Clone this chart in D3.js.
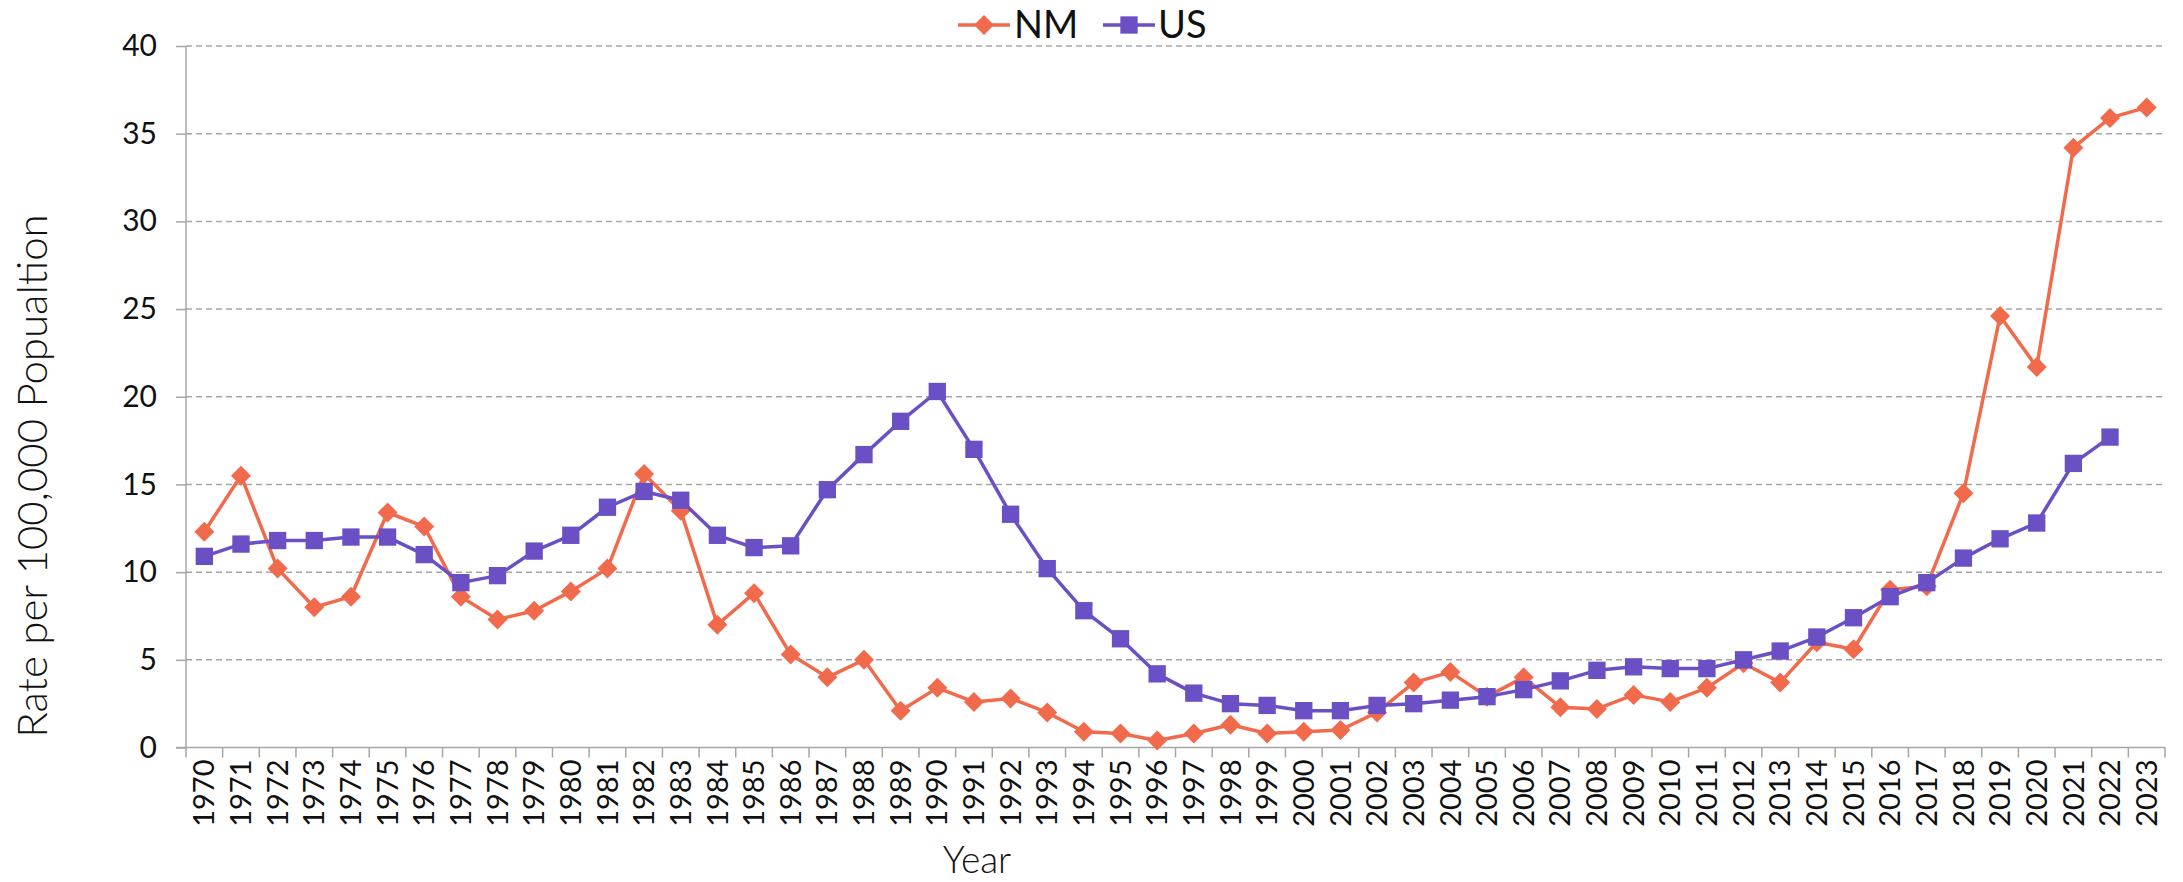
<!DOCTYPE html>
<html>
<head>
<meta charset="utf-8">
<script src="https://cdn.jsdelivr.net/npm/d3@7"></script>
<style>
  body { margin: 0; background: #fff; }
  svg text { font-family: Lato, "Open Sans", sans-serif; fill: #111; }
</style>
</head>
<body>
<svg id="chart" width="2183" height="882"></svg>
<script>
// Rate per 100,000 population, New Mexico vs. US
const years = d3.range(1970, 2024).map(String);

const nmValues = [
  12.3, 15.5, 10.2, 8.0, 8.6, 13.4, 12.6, 8.6, 7.3, 7.8,
  8.9, 10.2, 15.6, 13.5, 7.0, 8.8, 5.3, 4.0, 5.0, 2.1,
  3.4, 2.6, 2.8, 2.0, 0.9, 0.8, 0.4, 0.8, 1.3, 0.8,
  0.9, 1.0, 2.0, 3.7, 4.3, 2.9, 4.0, 2.3, 2.2, 3.0,
  2.6, 3.4, 4.8, 3.7, 6.0, 5.6, 9.0, 9.2, 14.5, 24.6,
  21.7, 34.2, 35.9, 36.5
];

const usValues = [
  10.9, 11.6, 11.8, 11.8, 12.0, 12.0, 11.0, 9.4, 9.8, 11.2,
  12.1, 13.7, 14.6, 14.1, 12.1, 11.4, 11.5, 14.7, 16.7, 18.6,
  20.3, 17.0, 13.3, 10.2, 7.8, 6.2, 4.2, 3.1, 2.5, 2.4,
  2.1, 2.1, 2.4, 2.5, 2.7, 2.9, 3.3, 3.8, 4.4, 4.6,
  4.5, 4.5, 5.0, 5.5, 6.3, 7.4, 8.6, 9.4, 10.8, 11.9,
  12.8, 16.2, 17.7, null
];

const yTicks = [0, 5, 10, 15, 20, 25, 30, 35, 40];

const series = [
  { name: "NM", values: nmValues, color: "#F26A4C", shape: "diamond" },
  { name: "US", values: usValues, color: "#6A4FC5", shape: "square" }
];

const svg = d3.select("#chart");
const plotLeft = 186, plotRight = 2165, plotTop = 46, plotBottom = 747.5;

const x = d3.scaleBand().domain(years).range([plotLeft, plotRight]).padding(0);
const y = d3.scaleLinear().domain([0, 40]).range([plotBottom, plotTop]);
const cx = d => x(d) + x.bandwidth() / 2;

// gridlines
svg.append("g")
  .selectAll("line")
  .data(yTicks.filter(t => t > 0))
  .enter().append("line")
  .attr("x1", plotLeft).attr("x2", plotRight)
  .attr("y1", d => y(d)).attr("y2", d => y(d))
  .attr("stroke", "#a6a6a6")
  .attr("stroke-width", 1.5)
  .attr("stroke-dasharray", "6,4");

// y axis
const yAxis = svg.append("g")
  .attr("transform", `translate(${plotLeft},0)`)
  .call(d3.axisLeft(y).tickValues(yTicks).tickSize(10).tickPadding(19));
yAxis.selectAll("path, line").attr("stroke", "#a6a6a6").attr("stroke-width", 1.5);
yAxis.select(".domain").attr("d", `M0,${plotTop}V${plotBottom}`);
yAxis.selectAll("text").style("font-size", "30px").attr("fill", "#111");

// x axis
const xAxis = svg.append("g")
  .attr("transform", `translate(0,${plotBottom})`)
  .call(d3.axisBottom(x).tickSize(0).tickPadding(0));
xAxis.select(".domain").attr("stroke", "#a6a6a6").attr("stroke-width", 1.5)
  .attr("d", `M${plotLeft - 10},0H${plotRight}`);
xAxis.selectAll(".tick text")
  .attr("transform", "rotate(-90)")
  .attr("x", -12).attr("y", 0).attr("dy", "0.35em")
  .style("text-anchor", "end")
  .style("font-size", "29px");

// x tick marks at band boundaries
svg.append("g")
  .selectAll("line")
  .data(years.concat(["end"]))
  .enter().append("line")
  .attr("x1", (d, i) => plotLeft + i * x.bandwidth())
  .attr("x2", (d, i) => plotLeft + i * x.bandwidth())
  .attr("y1", plotBottom).attr("y2", plotBottom + 10)
  .attr("stroke", "#a6a6a6").attr("stroke-width", 1.5);

// axis titles
svg.append("text")
  .attr("transform", `translate(32,476) rotate(-90)`)
  .attr("text-anchor", "middle")
  .attr("dy", "0.35em")
  .style("font-size", "42px")
  .style("font-weight", 300)
  .text("Rate per 100,000 Popualtion");

svg.append("text")
  .attr("x", 977).attr("y", 860)
  .attr("text-anchor", "middle")
  .attr("dy", "0.35em")
  .style("font-size", "37px")
  .style("font-weight", 300)
  .text("Year");

const markerPath = shape => shape === "diamond"
  ? d3.symbol().type(d3.symbolSquare).size(200)()
  : d3.symbol().type(d3.symbolSquare).size(300)();

// series lines and markers
series.forEach(s => {
  const pts = years.map((yr, i) => ({ yr, v: s.values[i] })).filter(p => p.v != null);
  const line = d3.line().x(p => cx(p.yr)).y(p => y(p.v));
  svg.append("path")
    .datum(pts)
    .attr("d", line)
    .attr("fill", "none")
    .attr("stroke", s.color)
    .attr("stroke-width", 3.5)
    .attr("stroke-linejoin", "round");
  svg.append("g")
    .selectAll("path")
    .data(pts)
    .enter().append("path")
    .attr("d", markerPath(s.shape))
    .attr("transform", p => `translate(${cx(p.yr)},${y(p.v)})` + (s.shape === "diamond" ? " rotate(45)" : ""))
    .attr("fill", s.color);
});

// legend
const legend = svg.append("g");
const legendItems = [
  { s: series[0], x0: 958, tx: 1014 },
  { s: series[1], x0: 1103, tx: 1158 }
];
legendItems.forEach(it => {
  legend.append("line")
    .attr("x1", it.x0).attr("x2", it.x0 + 52)
    .attr("y1", 25).attr("y2", 25)
    .attr("stroke", it.s.color).attr("stroke-width", 3.5);
  legend.append("path")
    .attr("d", markerPath(it.s.shape))
    .attr("transform", `translate(${it.x0 + 26},25)` + (it.s.shape === "diamond" ? " rotate(45)" : ""))
    .attr("fill", it.s.color);
  legend.append("text")
    .attr("x", it.tx).attr("y", 25)
    .attr("dy", "0.35em")
    .style("font-size", "38px")
    .text(it.s.name);
});
</script>
</body>
</html>
